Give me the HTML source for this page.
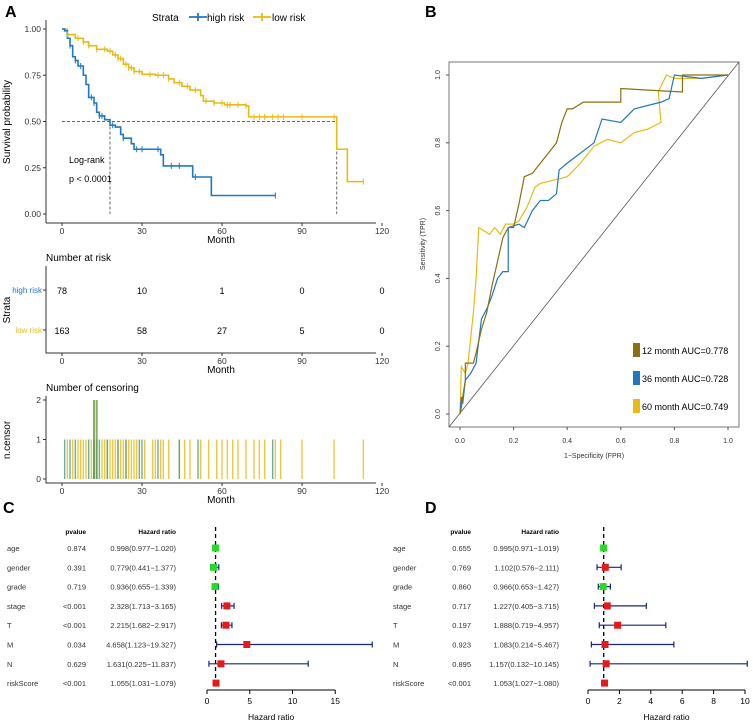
<!DOCTYPE html>
<html><head><meta charset="utf-8"><style>
body{margin:0;background:#fff;}
svg{display:block;font-family:"Liberation Sans",sans-serif;}
</style></head><body>
<svg id="fig" width="753" height="726" viewBox="0 0 753 726">
<g id="gA"></g>
<g id="gRisk"></g>
<g id="gCens"></g>
<g id="gB"></g>
<g id="gC"></g>
<g id="gD"></g>
</svg>
<script>
// ---- KM data ----
const highT=[0,1,2,3,4,5,6,8,9,10,12,13,14,16,18,20,22,23,26,27,37,38,49,56,80];
const highS=[1,0.99,0.95,0.91,0.85,0.83,0.80,0.75,0.70,0.63,0.60,0.55,0.53,0.51,0.48,0.47,0.43,0.41,0.38,0.35,0.32,0.26,0.20,0.10,0.10];
const lowT=[0,2,5,8,10,13,17,19,21,23,25,27,30,35,40,42,45,48,52,53,57,61,69,70,103,107,113];
const lowS=[1,0.97,0.95,0.93,0.91,0.89,0.88,0.86,0.84,0.81,0.79,0.77,0.755,0.75,0.73,0.71,0.69,0.67,0.64,0.61,0.60,0.59,0.585,0.525,0.35,0.175,0.175];
const highCens=[3,5,7,11,12,14,15,19,23,28,30,36,41,44,50,80];
const lowCens=[2,6,8,10,13,16,18,20,21,22,24,25,26,27,29,33,36,38,40,44,47,50,54,57,60,62,63,66,69,72,74,76,79,81,83,90,102,113];
const xTicksKM=[0,30,60,90,120];
const yTicksKM=[0,0.25,0.5,0.75,1];
const riskHigh=[78,10,1,0,0];
const riskLow=[163,58,27,5,0];
const censTimesHigh=[1,3,5,10,12,13,14,17,21,24,29,30,36,44,51,79];
const censTimesLow=[2,4,6,7,8,9,11,12,15,16,17,18,19,20,21,22,23,24,25,26,27,28,31,34,35,37,38,40,44,46,48,52,55,58,60,62,64,66,69,72,74,76,80,82,90,102,113];
const censTwo=[12,13];
// ---- ROC data ----
const roc12x=[0,0.005,0.01,0.02,0.02,0.05,0.06,0.08,0.1,0.12,0.14,0.16,0.18,0.2,0.22,0.24,0.27,0.3,0.33,0.36,0.38,0.4,0.42,0.46,0.6,0.6,0.83,0.83,1];
const roc12y=[0,0.02,0.05,0.1,0.15,0.15,0.18,0.25,0.3,0.38,0.45,0.52,0.55,0.55,0.62,0.7,0.71,0.74,0.77,0.8,0.86,0.9,0.9,0.92,0.92,0.96,0.95,1,1];
const roc36x=[0,0.005,0.01,0.02,0.04,0.06,0.08,0.1,0.12,0.14,0.16,0.18,0.18,0.22,0.24,0.27,0.3,0.33,0.36,0.37,0.4,0.45,0.5,0.53,0.6,0.65,0.7,0.75,0.78,0.8,0.9,1];
const roc36y=[0,0.05,0.03,0.1,0.12,0.15,0.28,0.31,0.35,0.4,0.42,0.42,0.55,0.56,0.55,0.6,0.63,0.63,0.65,0.72,0.74,0.77,0.8,0.87,0.86,0.9,0.91,0.92,0.93,1,0.99,1];
const roc60x=[0,0.005,0.02,0.03,0.05,0.06,0.07,0.09,0.11,0.13,0.15,0.17,0.2,0.22,0.25,0.28,0.3,0.35,0.4,0.45,0.5,0.55,0.6,0.65,0.7,0.75,0.74,0.77,0.8,0.9,1];
const roc60y=[0,0.14,0.12,0.15,0.3,0.4,0.55,0.54,0.53,0.55,0.53,0.56,0.56,0.57,0.61,0.67,0.68,0.69,0.7,0.74,0.79,0.81,0.8,0.83,0.84,0.86,0.95,1,0.99,0.99,1];
const rocTicks=[0,0.2,0.4,0.6,0.8,1.0];
const rocLabels=["12 month AUC=0.778","36 month AUC=0.728","60 month AUC=0.749"];
// ---- Forest data ----
const vars=["age","gender","grade","stage","T","M","N","riskScore"];
const pC=["0.874","0.391","0.719","<0.001","<0.001","0.034","0.629","<0.001"];
const hrC=[0.998,0.779,0.936,2.328,2.215,4.658,1.631,1.055];
const loC=[0.977,0.441,0.655,1.713,1.682,1.123,0.225,1.031];
const hiC=[1.020,1.377,1.339,3.165,2.917,19.327,11.837,1.079];
const ticksC=[0,5,10,15];
const pD=["0.655","0.769","0.860","0.717","0.197","0.923","0.895","<0.001"];
const hrD=[0.995,1.102,0.966,1.227,1.888,1.083,1.157,1.053];
const loD=[0.971,0.576,0.653,0.405,0.719,0.214,0.132,1.027];
const hiD=[1.019,2.111,1.427,3.715,4.957,5.467,10.145,1.080];
const ticksD=[0,2,4,6,8,10];

const NS="http://www.w3.org/2000/svg";
function mk(parent,tag,attrs,text){const e=document.createElementNS(NS,tag);for(const k in attrs)e.setAttribute(k,attrs[k]);if(text!==undefined)e.textContent=text;parent.appendChild(e);return e;}
function txt(p,x,y,s,size,anchor,fill,weight,name){const t=mk(p,'text',{x:x,y:y,'font-size':size,'text-anchor':anchor||'start',fill:fill||'#000','font-weight':weight||'normal'},s);

return t;}
const BLUE='#1f78c1',YEL='#e8bb14',OLIVE='#8a7010';

const fig=document.getElementById('fig');
[['A',5,17],['B',425,17],['C',3,513],['D',425,513]].forEach(l=>{const t=txt(fig,l[1],l[2],l[0],16,'start','#000','bold');});

// ---- Panel A ----
const A=document.getElementById('gA');
const kx=m=>62+m*2.667, ky=s=>214-s*185;
mk(A,'line',{x1:46,y1:20,x2:46,y2:223,stroke:'#333','stroke-width':1});
mk(A,'line',{x1:46,y1:223,x2:376,y2:223,stroke:'#333','stroke-width':1});
yTicksKM.forEach(v=>{mk(A,'line',{x1:43,y1:ky(v),x2:46,y2:ky(v),stroke:'#333'});txt(A,41,ky(v)+3,v.toFixed(2),8.5,'end','#333',null,'y-tick-label');});
xTicksKM.forEach(v=>{mk(A,'line',{x1:kx(v),y1:223,x2:kx(v),y2:226,stroke:'#333'});txt(A,kx(v),234,String(v),8.5,'middle','#333',null,'x-tick-label');});
txt(A,221,243,'Month',10,'middle','#000',null,'x-axis-title');
{const t=txt(A,10,122,'Survival probability',10,'middle','#000',null,'y-axis-title');t.setAttribute('transform','rotate(-90 10 122)');}
mk(A,'path',{d:`M${kx(0)},${ky(0.5)}H${kx(103)}M${kx(18)},${ky(0.5)}V${ky(0)}M${kx(103)},${ky(0.5)}V${ky(0)}`,stroke:'#666','stroke-dasharray':'3,2',fill:'none'});
function step(T,S){let d=`M${kx(T[0])},${ky(S[0])}`;for(let i=1;i<T.length;i++){d+=`H${kx(T[i])}V${ky(S[i])}`;}return d;}
function survAt(T,S,t){let s=S[0];for(let i=0;i<T.length;i++){if(T[i]<=t)s=S[i];}return s;}
const pl=mk(A,'path',{d:step(lowT,lowS),stroke:YEL,'stroke-width':1.6,fill:'none'});
const ph=mk(A,'path',{d:step(highT,highS),stroke:BLUE,'stroke-width':1.6,fill:'none'});
highCens.forEach(t=>{const s=survAt(highT,highS,t);mk(A,'path',{d:`M${kx(t)},${ky(s)-3}v6`,stroke:BLUE,'stroke-width':1});});
lowCens.forEach(t=>{const s=survAt(lowT,lowS,t);mk(A,'path',{d:`M${kx(t)},${ky(s)-3}v6`,stroke:YEL,'stroke-width':1});});
txt(A,69,163,'Log-rank',9,'start','#000',null,'logrank-label');
txt(A,69,182,'p < 0.0001',9,'start','#000',null,'p-value-label');
const lg=mk(A,'g',{});
txt(lg,152,21,'Strata',10,'start','#000',null,'legend-title');
mk(lg,'path',{d:'M189,17h18M198,13v8',stroke:BLUE,'stroke-width':1.8});
txt(lg,207,21,'high risk',10,'start','#000',null,'legend-high-risk');
mk(lg,'path',{d:'M253,17h18M262,13v8',stroke:YEL,'stroke-width':1.8});
txt(lg,272,21,'low risk',10,'start','#000',null,'legend-low-risk');

// ---- Risk table ----
const R=document.getElementById('gRisk');
txt(R,46,261,'Number at risk',10,'start','#000',null,'risk-table-title');
mk(R,'path',{d:'M46,266V353H376',stroke:'#333',fill:'none'});
[[290,'high risk',BLUE,riskHigh],[330,'low risk',YEL,riskLow]].forEach(r=>{txt(R,42,r[0]+3,r[1],8,'end',r[2],null,'strata-label');mk(R,'line',{x1:43,y1:r[0],x2:46,y2:r[0],stroke:'#333'});
r[3].forEach((n,i)=>txt(R,kx(xTicksKM[i]),r[0]+4,String(n),9,'middle','#000',null,'risk-count'));});
xTicksKM.forEach(v=>{mk(R,'line',{x1:kx(v),y1:353,x2:kx(v),y2:356,stroke:'#333'});txt(R,kx(v),364,String(v),8.5,'middle','#333',null,'x-tick-label');});
txt(R,221,373,'Month',10,'middle','#000',null,'x-axis-title');
{const t=txt(R,10,310,'Strata',10,'middle','#000',null,'y-axis-title');t.setAttribute('transform','rotate(-90 10 310)');}

// ---- Censor plot ----
const Cn=document.getElementById('gCens');
const cy=v=>479-v*39.5;
txt(Cn,46,391,'Number of censoring',10,'start','#000',null,'censor-title');
mk(Cn,'path',{d:'M46,396V483H376',stroke:'#333',fill:'none'});
[0,1,2].forEach(v=>{mk(Cn,'line',{x1:43,y1:cy(v),x2:46,y2:cy(v),stroke:'#333'});txt(Cn,41,cy(v)+3,String(v),8.5,'end','#333',null,'y-tick-label');});
censTimesLow.forEach(t=>{const r=mk(Cn,'rect',{x:kx(t)-0.7,y:cy(1),width:1.4,height:cy(0)-cy(1),fill:YEL,opacity:0.8});});
censTimesHigh.forEach(t=>{const r=mk(Cn,'rect',{x:kx(t)-0.7,y:cy(1),width:1.4,height:cy(0)-cy(1),fill:'#4a9a8a',opacity:0.8});});
censTwo.forEach(t=>{mk(Cn,'rect',{x:kx(t)-1,y:cy(2),width:2,height:cy(0)-cy(2),fill:'#6a9a40',opacity:0.8});});
xTicksKM.forEach(v=>{mk(Cn,'line',{x1:kx(v),y1:483,x2:kx(v),y2:486,stroke:'#333'});txt(Cn,kx(v),494,String(v),8.5,'middle','#333',null,'x-tick-label');});
txt(Cn,221,503,'Month',10,'middle','#000',null,'x-axis-title');
{const t=txt(Cn,10,440,'n.censor',10,'middle','#000',null,'y-axis-title');t.setAttribute('transform','rotate(-90 10 440)');}

// ---- Panel B ----
const B=document.getElementById('gB');
const rx=v=>460+v*268, ry=v=>414-v*339;
mk(B,'rect',{x:449,y:62,width:290,height:365,fill:'none',stroke:'#777'});
mk(B,'line',{x1:449,y1:427,x2:739,y2:62,stroke:'#555','stroke-width':0.8});
rocTicks.forEach(v=>{mk(B,'line',{x1:rx(v),y1:427,x2:rx(v),y2:430,stroke:'#555'});txt(B,rx(v),443,v.toFixed(1),7,'middle','#333',null,'x-tick-label');
mk(B,'line',{x1:446,y1:ry(v),x2:449,y2:ry(v),stroke:'#555'});const t=txt(B,440,ry(v),v.toFixed(1),7,'middle','#333',null,'y-tick-label');t.setAttribute('transform',`rotate(-90 440 ${ry(v)})`);});
txt(B,594,458,'1−Specificity (FPR)',7,'middle','#333',null,'x-axis-title');
{const t=txt(B,425,244,'Sensitivity (TPR)',7,'middle','#333',null,'y-axis-title');t.setAttribute('transform','rotate(-90 425 244)');}
function line(X,Y){return X.map((x,i)=>(i?'L':'M')+rx(x)+','+ry(Y[i])).join('');}
[[roc60x,roc60y,YEL,'roc-60-month'],[roc36x,roc36y,BLUE,'roc-36-month'],[roc12x,roc12y,OLIVE,'roc-12-month']].forEach(s=>{const p=mk(B,'path',{d:line(s[0],s[1]),stroke:s[2],'stroke-width':1.2,fill:'none'});});
[OLIVE,BLUE,YEL].forEach((c,i)=>{const y=350+i*28;mk(B,'rect',{x:633,y:y-7,width:7,height:14,fill:c});txt(B,642,y+4,rocLabels[i],9,'start','#000',null,'roc-legend-entry');});

// ---- Forest ----
function forest(G,x0,labX,pX,hrX,P,HR,LO,HI,ticks,unit){
 const fx=v=>x0+v*unit; const rowY=i=>548+i*19.3;
 txt(G,pX,534,'pvalue',6.5,'end','#000','bold','pvalue-header');
 txt(G,hrX,534,'Hazard ratio',6.5,'end','#000','bold','hr-header');
 vars.forEach((v,i)=>{const y=rowY(i)+3;txt(G,labX,y,v,7.5,'start','#333',null,'var-label');txt(G,pX,y,P[i],7.5,'end','#333',null,'pvalue');
  txt(G,hrX,y,HR[i].toFixed(3)+'('+LO[i].toFixed(3)+'−'+HI[i].toFixed(3)+')',7.5,'end','#333',null,'hr-text');});
 mk(G,'line',{x1:fx(1),y1:527,x2:fx(1),y2:688,stroke:'#000','stroke-width':1.3,'stroke-dasharray':'4,3'});
 vars.forEach((v,i)=>{const y=rowY(i);
  const e=mk(G,'path',{d:`M${fx(LO[i])},${y}H${fx(HI[i])}M${fx(LO[i])},${y-3}v6M${fx(HI[i])},${y-3}v6`,stroke:'#1a237e','stroke-width':1.2,fill:'none'});
  const col=HR[i]>1?'#e41a1c':'#22dd22';
  const b=mk(G,'rect',{x:fx(HR[i])-3.5,y:y-3.5,width:7,height:7,fill:col});});
 mk(G,'line',{x1:fx(ticks[0]),y1:690,x2:fx(ticks[ticks.length-1]),y2:690,stroke:'#000'});
 ticks.forEach(t=>{mk(G,'line',{x1:fx(t),y1:690,x2:fx(t),y2:694,stroke:'#000'});txt(G,fx(t),704,String(t),8.5,'middle','#000',null,'x-tick-label');});
 txt(G,fx(ticks[ticks.length-1])/2+x0/2,720,'Hazard ratio',8.5,'middle','#000',null,'x-axis-title');
}
forest(document.getElementById('gC'),207,7,86,176,pC,hrC,loC,hiC,ticksC,8.55);
forest(document.getElementById('gD'),588,393,471,559,pD,hrD,loD,hiD,ticksD,15.7);
</script>
</body></html>
